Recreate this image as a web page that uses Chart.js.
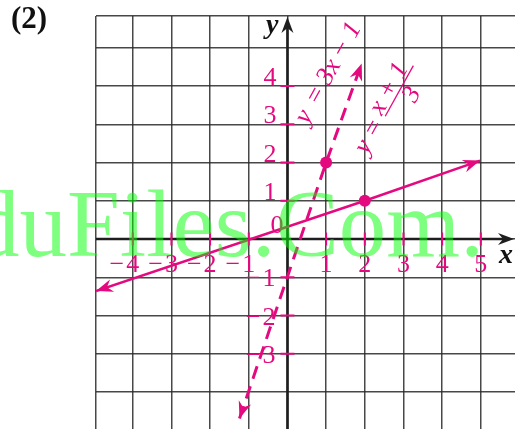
<!DOCTYPE html>
<html>
<head>
<meta charset="utf-8">
<script src="https://cdn.jsdelivr.net/npm/chart.js@4.4.1/dist/chart.umd.min.js"></script>
<style>
  html, body { margin: 0; padding: 0; background: #ffffff; }
  #wrap { position: relative; width: 515px; height: 429px; overflow: hidden; }
  canvas { display: block; }
</style>
</head>
<body>
<div id="wrap"><canvas id="c" width="515" height="429"></canvas></div>
<script>
// ---- data ----
const xMin = -4.95, xMax = 5.884;
const yMin = -4.966, yMax = 5.83;
const xGridValues = [-4, -3, -2, -1, 0, 1, 2, 3, 4, 5];
const yGridValues = [-4, -3, -2, -1, 0, 1, 2, 3, 4, 5];
const xTickValues = [-4, -3, -2, -1, 1, 2, 3, 4, 5];
const yTickValues = [-3, -2, -1, 1, 2, 3, 4];
// y = (x + 1) / 3  (solid, marked point at (2, 1))
const solidLineX = [-4.95, 2, 4.98];
const solidLineY = [-1.36, 1, 2.05];
// y = 3x - 1  (dashed, marked point at (1, 2))
const dashedLineX = [-1.24, 1, 1.92];
const dashedLineY = [-4.69, 2, 4.59];
const markedIndex = 1;

const pink = '#e5097f';
const gridColor = 'rgba(40,40,40,0.85)';
const axisColor = '#1e1e1e';
const serif = '"Liberation Serif", "DejaVu Serif", serif';

function toPoints(xs, ys) { return xs.map((x, i) => ({ x: x, y: ys[i] })); }
function radii(n, r) { const a = []; for (let i = 0; i < n; i++) a.push(i === markedIndex ? r : 0); return a; }

function arrowHead(ctx, tx, ty, fx, fy, L, W, color) {
  const a = Math.atan2(ty - fy, tx - fx);
  const dx = Math.cos(a), dy = Math.sin(a);
  const px = -dy, py = dx;
  ctx.save();
  ctx.fillStyle = color;
  ctx.beginPath();
  ctx.moveTo(tx, ty);
  ctx.lineTo(tx - L * dx + W * px, ty - L * dy + W * py);
  ctx.lineTo(tx - 0.68 * L * dx, ty - 0.68 * L * dy);
  ctx.lineTo(tx - L * dx - W * px, ty - L * dy - W * py);
  ctx.closePath();
  ctx.fill();
  ctx.restore();
}

// draws "−d" with the digit ending at xRight and a slightly wider minus
function drawLabel(ctx, v, xRight, yBase) {
  const digits = String(Math.abs(v));
  const dw = ctx.measureText(digits).width;
  ctx.textAlign = 'left';
  ctx.fillText(digits, xRight - dw, yBase);
  if (v < 0) {
    const mw = ctx.measureText('\u2212').width;
    ctx.fillText('\u2212', xRight - dw - mw - 2, yBase);
  }
}

const axesPlugin = {
  id: 'axesPlugin',
  beforeDatasetsDraw(chart) {
    const ctx = chart.ctx, xs = chart.scales.x, ys = chart.scales.y, ca = chart.chartArea;
    const x0 = xs.getPixelForValue(0), y0 = ys.getPixelForValue(0);
    ctx.save();
    // axes
    ctx.strokeStyle = axisColor;
    ctx.lineWidth = 2.6;
    ctx.beginPath();
    ctx.moveTo(ca.left, y0); ctx.lineTo(ca.right - 8, y0);
    ctx.moveTo(x0, ca.bottom); ctx.lineTo(x0, ca.top + 10);
    ctx.stroke();
    arrowHead(ctx, ca.right - 1, y0, ca.left, y0, 16, 6, axisColor);
    arrowHead(ctx, x0, ca.top + 1, x0, ca.bottom, 16, 6, axisColor);
    // pink tick marks
    ctx.strokeStyle = pink;
    ctx.lineWidth = 2;
    ctx.beginPath();
    xTickValues.forEach(v => { const p = xs.getPixelForValue(v); ctx.moveTo(p, y0 - 6.5); ctx.lineTo(p, y0 + 6.5); });
    yTickValues.forEach(v => { const p = ys.getPixelForValue(v); ctx.moveTo(x0 - 7, p); ctx.lineTo(x0 + 7, p); });
    ctx.stroke();
    // tick labels
    ctx.fillStyle = pink;
    ctx.font = '26px ' + serif;
    ctx.textBaseline = 'alphabetic';
    xTickValues.forEach(v => {
      const p = xs.getPixelForValue(v);
      const dw = ctx.measureText(String(Math.abs(v))).width;
      drawLabel(ctx, v, p + dw / 2, y0 + 33);
    });
    yTickValues.forEach(v => {
      const p = ys.getPixelForValue(v);
      if (v > 0) drawLabel(ctx, v, x0 - 11, p - 1);
      else drawLabel(ctx, v, x0 - 12, p + 9);
    });
    drawLabel(ctx, 0, x0 - 4, y0 - 6);
    // axis names
    ctx.fillStyle = '#111';
    ctx.font = 'bold italic 28px ' + serif;
    ctx.textAlign = 'right';
    ctx.fillText('y', x0 - 9, ca.top + 17);
    ctx.textAlign = 'left';
    ctx.fillText('x', ca.right - 16, y0 + 24);
    // title
    ctx.font = 'bold 31px ' + serif;
    ctx.fillText('(2)', 11, 28);
    ctx.restore();
  },
  afterDatasetsDraw(chart) {
    const ctx = chart.ctx, xs = chart.scales.x, ys = chart.scales.y;
    chart.data.datasets.forEach((ds, i) => {
      const pts = chart.getDatasetMeta(i).data;
      const n = pts.length;
      arrowHead(ctx, pts[n - 1].x, pts[n - 1].y, pts[n - 2].x, pts[n - 2].y, 17, 6.5, pink);
      arrowHead(ctx, pts[0].x, pts[0].y, pts[1].x, pts[1].y, 17, 6.5, pink);
    });
    // equation labels
    const ang = -61 * Math.PI / 180;
    ctx.save();
    ctx.fillStyle = pink;
    ctx.strokeStyle = pink;
    ctx.font = 'italic 26px ' + serif;
    ctx.textBaseline = 'alphabetic';
    // y = 3x - 1
    ctx.save();
    ctx.translate(xs.getPixelForValue(0.53), ys.getPixelForValue(3.0));
    ctx.rotate(ang);
    ctx.textAlign = 'left'; ctx.fillText('y', -1, 0);
    ctx.textAlign = 'center';
    ctx.fillText('=', 29, 0);
    ctx.fillText('3x', 56, 0);
    ctx.fillText('\u2212', 82, 0);
    ctx.fillText('1', 104, 0);
    ctx.restore();
    // y = (x + 1) / 3
    ctx.save();
    ctx.translate(xs.getPixelForValue(2.07), ys.getPixelForValue(2.21));
    ctx.rotate(ang);
    ctx.textAlign = 'left'; ctx.fillText('y', -1, 0);
    ctx.textAlign = 'center';
    ctx.fillText('=', 26, 0);
    ctx.fillText('x + 1', 68, -6);
    ctx.fillText('3', 74, 17);
    ctx.lineWidth = 1.3;
    ctx.beginPath(); ctx.moveTo(42, -3); ctx.lineTo(100, -3); ctx.stroke();
    ctx.restore();
    ctx.restore();
  },
  afterDraw(chart) {
    const ctx = chart.ctx;
    ctx.save();
    ctx.fillStyle = 'rgba(0,255,0,0.5)';
    ctx.font = '95px ' + serif;
    ctx.textAlign = 'left';
    ctx.textBaseline = 'alphabetic';
    const pre = ctx.measureText('Edu').width;
    ctx.fillText('EduFiles.Com.', 67 - pre, 256);
    ctx.restore();
  }
};

function gridTicks(minV, values) {
  return scale => { scale.ticks = [minV].concat(values).map(v => ({ value: v })); };
}
function gridTicksTop(maxV, values) {
  return scale => { scale.ticks = values.concat([maxV]).map(v => ({ value: v })); };
}

new Chart(document.getElementById('c'), {
  type: 'scatter',
  data: {
    datasets: [
      {
        label: 'y = (x + 1) / 3',
        data: toPoints(solidLineX, solidLineY),
        showLine: true,
        borderColor: pink,
        borderWidth: 2.6,
        pointRadius: radii(solidLineX.length, 6),
        pointHoverRadius: radii(solidLineX.length, 6),
        pointBackgroundColor: pink,
        pointBorderWidth: 0,
        tension: 0
      },
      {
        label: 'y = 3x - 1',
        data: toPoints(dashedLineX, dashedLineY),
        showLine: true,
        borderColor: pink,
        borderWidth: 3,
        borderDash: [13, 8],
        pointRadius: radii(dashedLineX.length, 6),
        pointHoverRadius: radii(dashedLineX.length, 6),
        pointBackgroundColor: pink,
        pointBorderWidth: 0,
        tension: 0
      }
    ]
  },
  options: {
    responsive: false,
    animation: false,
    events: [],
    layout: { padding: { left: 96, top: 16, right: 0, bottom: 0 }, autoPadding: false },
    plugins: { legend: { display: false }, tooltip: { enabled: false }, title: { display: false } },
    scales: {
      x: {
        type: 'linear', min: xMin, max: xMax,
        afterBuildTicks: gridTicks(xMin, xGridValues),
        ticks: { display: false },
        grid: { color: gridColor, lineWidth: 1.5, drawTicks: false },
        border: { display: false }
      },
      y: {
        type: 'linear', min: yMin, max: yMax,
        afterBuildTicks: gridTicksTop(yMax, yGridValues),
        ticks: { display: false },
        grid: { color: gridColor, lineWidth: 1.5, drawTicks: false },
        border: { display: false }
      }
    }
  },
  plugins: [axesPlugin]
});
</script>
</body>
</html>
